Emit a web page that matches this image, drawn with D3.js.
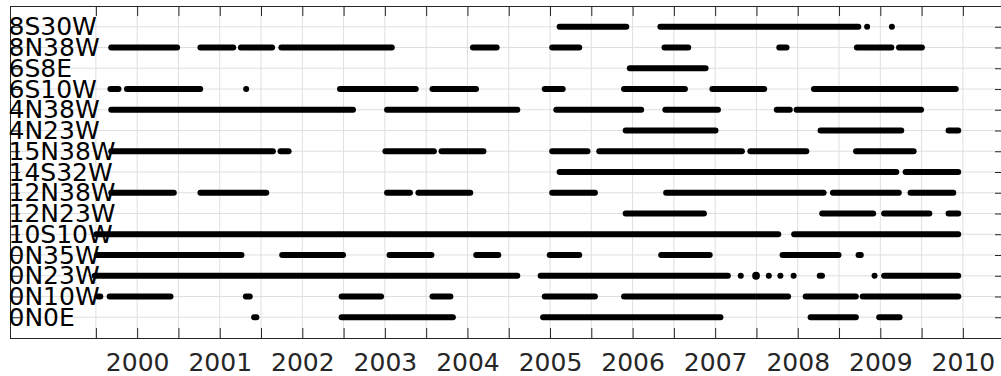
<!DOCTYPE html>
<html>
<head>
<meta charset="utf-8">
<script src="https://cdn.jsdelivr.net/npm/d3@7"></script>
<style>
  body { margin: 0; background: #fff; }
  svg { display: block; font-family: "DejaVu Sans", sans-serif; }
</style>
</head>
<body>
<svg id="graphic" width="1001" height="376"></svg>
<script>
// stations, top row first
const stations = ["8S30W", "8N38W", "6S8E", "6S10W", "4N38W", "4N23W", "15N38W", "14S32W",
    "12N38W", "12N23W", "10S10W", "0N35W", "0N23W", "0N10W", "0N0E"];

// record periods per station, [start year, end year] (decimal years)
const s8S30W = [[2005.08, 2005.96], [2006.30, 2008.77], [2008.84, 2008.84], [2009.12, 2009.16]];
const s8N38W = [[1999.65, 2000.52], [2000.73, 2001.20], [2001.22, 2001.67], [2001.71, 2003.12],
    [2004.03, 2004.39], [2004.99, 2005.39], [2006.35, 2006.71], [2007.74, 2007.90],
    [2008.68, 2009.17], [2009.19, 2009.54]];
const s6S8E = [[2005.93, 2006.92]];
const s6S10W = [[1999.64, 1999.81], [1999.84, 2000.80], [2001.32, 2001.32], [2002.42, 2003.41],
    [2003.54, 2004.14], [2004.90, 2005.19], [2005.86, 2006.67], [2006.93, 2007.63], [2008.16, 2009.95]];
const s4N38W = [[1999.65, 2002.65], [2002.99, 2004.64], [2005.04, 2006.14], [2006.36, 2007.07],
    [2007.71, 2007.94], [2007.95, 2009.53]];
const s4N23W = [[2005.88, 2007.04], [2008.24, 2009.29], [2009.79, 2009.98]];
const s15N38W = [[1999.65, 2001.68], [2001.70, 2001.87], [2002.97, 2003.63], [2003.65, 2004.23],
    [2004.99, 2005.49], [2005.56, 2007.36], [2007.39, 2008.14], [2008.67, 2009.44]];
const s14S32W = [[2005.08, 2009.23], [2009.27, 2009.98]];
const s12N38W = [[1999.65, 2000.48], [2000.73, 2001.60], [2002.99, 2003.34], [2003.37, 2004.07],
    [2004.99, 2005.58], [2006.37, 2008.35], [2008.39, 2009.26], [2009.33, 2009.92]];
const s12N23W = [[2005.88, 2006.90], [2008.26, 2008.95], [2009.01, 2009.63], [2009.79, 2009.98]];
const s10S10W = [[1999.47, 2007.80], [2007.92, 2009.98]];
const s0N35W = [[1999.48, 2001.30], [2001.72, 2002.53], [2003.02, 2003.60], [2004.07, 2004.41],
    [2004.96, 2005.39], [2006.31, 2006.97], [2007.78, 2008.53], [2008.70, 2008.80]];
const s0N23W = [[1999.45, 2004.64], [2004.85, 2007.19], [2007.31, 2007.31], [2007.46, 2007.53],
    [2007.65, 2007.65], [2007.79, 2007.79], [2007.95, 2007.95], [2008.23, 2008.33],
    [2008.93, 2008.93], [2009.01, 2009.98]];
const s0N10W = [[1999.49, 1999.59], [1999.63, 2000.44], [2001.28, 2001.40], [2002.44, 2002.99],
    [2003.54, 2003.83], [2004.90, 2005.58], [2005.86, 2007.92], [2008.06, 2008.74], [2008.75, 2009.98]];
const s0N0E = [[2001.38, 2001.48], [2002.44, 2003.86], [2004.88, 2007.10], [2008.12, 2008.74],
    [2008.95, 2009.27]];

const periods = [s8S30W, s8N38W, s6S8E, s6S10W, s4N38W, s4N23W, s15N38W, s14S32W,
    s12N38W, s12N23W, s10S10W, s0N35W, s0N23W, s0N10W, s0N0E];

// x axis ticks every half year, labelled on whole years
const tickYears = [1999.5, 2000, 2000.5, 2001, 2001.5, 2002, 2002.5, 2003, 2003.5, 2004, 2004.5,
    2005, 2005.5, 2006, 2006.5, 2007, 2007.5, 2008, 2008.5, 2009, 2009.5, 2010];
const xDomain = [1998.46, 2010.51];

let rows = [];
stations.forEach((s, i) => {
    periods[i].forEach(p => rows.push({ station: s, start: p[0], end: p[1] }));
});

const mLeft = 10, mRight = 1005, mTop = 6, mBottom = 338;
const r = 3;

let xScale = d3.scaleLinear().domain(xDomain).range([mLeft, mRight]);
let yScale = d3.scalePoint().domain(stations).range([mTop, mBottom]).padding(1);

let svg = d3.select('#graphic');

// grid
let grid = svg.append('g').attr('class', 'grid');
grid.selectAll('.vgrid')
    .data(tickYears)
    .enter()
    .append('line')
    .attr('x1', d => xScale(d)).attr('x2', d => xScale(d))
    .attr('y1', mTop).attr('y2', mBottom)
    .attr('stroke', '#dfdfdf').attr('stroke-width', 1);
grid.selectAll('.hgrid')
    .data(stations)
    .enter()
    .append('line')
    .attr('x1', mLeft).attr('x2', mRight)
    .attr('y1', d => yScale(d)).attr('y2', d => yScale(d))
    .attr('stroke', '#dfdfdf').attr('stroke-width', 1);

// record bars
let marks = svg.append('g');
let segs = rows.filter(d => xScale(d.end) - xScale(d.start) > 2 * r);
let dots = rows.filter(d => xScale(d.end) - xScale(d.start) <= 2 * r);

marks.selectAll('.seg')
    .data(segs)
    .enter()
    .append('line')
    .classed('seg', true)
    .attr('x1', d => xScale(d.start) + r)
    .attr('x2', d => xScale(d.end) - r)
    .attr('y1', d => yScale(d.station))
    .attr('y2', d => yScale(d.station))
    .attr('stroke', '#000')
    .attr('stroke-width', 2 * r)
    .attr('stroke-linecap', 'round');

marks.selectAll('.dot')
    .data(dots)
    .enter()
    .append('circle')
    .classed('dot', true)
    .attr('cx', d => (xScale(d.start) + xScale(d.end)) / 2)
    .attr('cy', d => yScale(d.station))
    .attr('r', d => Math.max(r, (xScale(d.end) - xScale(d.start)) / 2 + 1))
    .attr('fill', '#000');

// axes
let xBottom = d3.axisBottom(xScale)
    .tickValues(tickYears)
    .tickSize(-10)
    .tickPadding(15)
    .tickFormat(d => Number.isInteger(d) ? d : '');
let xTop = d3.axisTop(xScale)
    .tickValues(tickYears)
    .tickSize(-10)
    .tickFormat('');
let yLeft = d3.axisLeft(yScale).tickSize(-10).tickFormat('');
let yRight = d3.axisRight(yScale).tickSize(-10).tickFormat('');

function styleAxis(g) {
    g.select('.domain').remove();
    g.selectAll('.tick line').attr('stroke', '#262626');
    g.selectAll('.tick text')
        .attr('fill', '#262626')
        .style('font-size', '25px')
        .style('font-family', '"DejaVu Sans", sans-serif');
}

svg.append('g').attr('transform', `translate(0,${mBottom})`).call(xBottom).call(styleAxis);
svg.append('g').attr('transform', `translate(0,${mTop})`).call(xTop).call(styleAxis);
svg.append('g').attr('transform', `translate(${mLeft},0)`).call(yLeft).call(styleAxis);
svg.append('g').attr('transform', `translate(${mRight},0)`).call(yRight).call(styleAxis);

// box
svg.append('rect')
    .attr('x', mLeft + 0.5).attr('y', mTop + 0.5)
    .attr('width', mRight - mLeft).attr('height', mBottom - mTop)
    .attr('fill', 'none')
    .attr('stroke', '#262626')
    .attr('stroke-width', 1);

// station labels sit inside the axes
svg.append('g')
    .selectAll('text')
    .data(stations)
    .enter()
    .append('text')
    .attr('x', mLeft - 1.5)
    .attr('y', d => yScale(d))
    .attr('dy', '0.34em')
    .attr('fill', '#000')
    .style('font-size', '25px')
    .text(d => d);
</script>
</body>
</html>
